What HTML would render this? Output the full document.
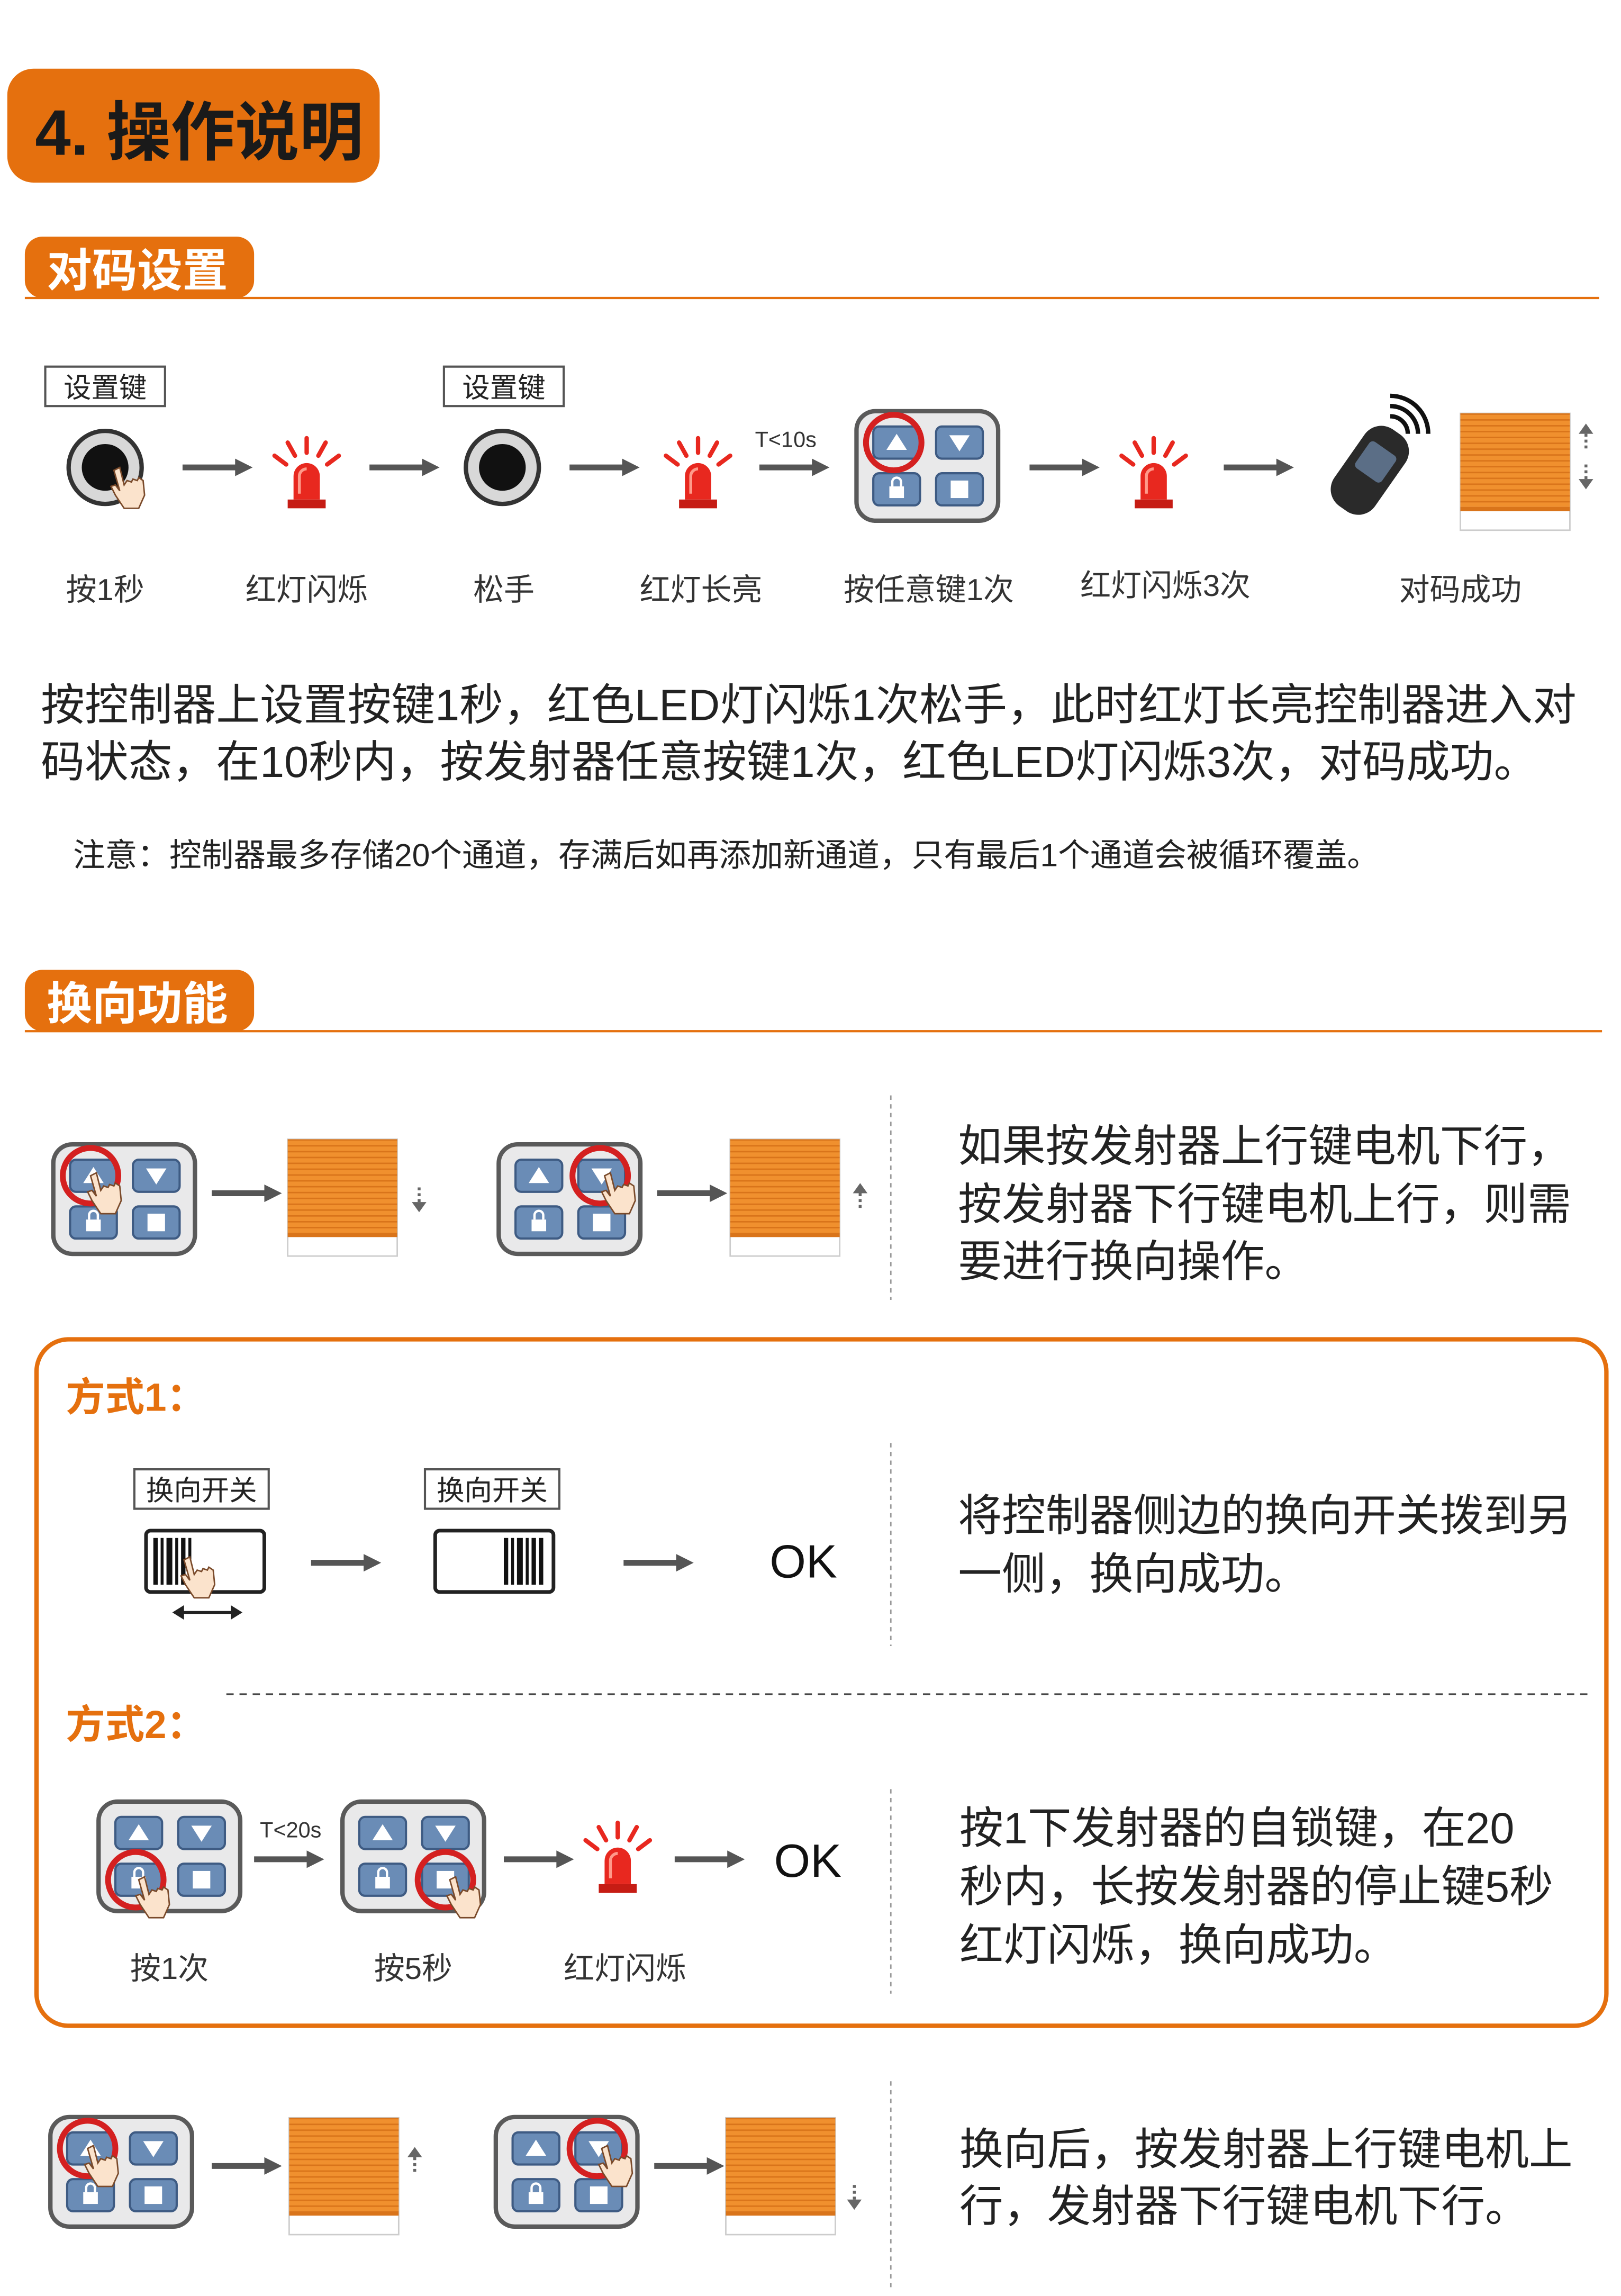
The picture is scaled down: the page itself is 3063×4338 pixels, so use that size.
<!DOCTYPE html>
<html><head><meta charset="utf-8">
<style>
html,body{margin:0;padding:0;background:#fff;}
svg{display:block;}
text{font-family:"Liberation Sans","Noto Sans CJK SC",sans-serif;}
</style></head>
<body>
<svg xmlns="http://www.w3.org/2000/svg" width="3063" height="4338" viewBox="0 0 1110 1572">
<defs>
  <g id="kp">
    <rect x="1.5" y="1.5" width="97" height="75" rx="13" fill="#e9e9ea" stroke="#5a5a5a" stroke-width="3"/>
    <rect x="13" y="12" width="32" height="22" rx="4" fill="#6a8cb6" stroke="#3e5b83" stroke-width="1.5"/>
    <rect x="56" y="12" width="32" height="22" rx="4" fill="#6a8cb6" stroke="#3e5b83" stroke-width="1.5"/>
    <rect x="13" y="44" width="32" height="22" rx="4" fill="#6a8cb6" stroke="#3e5b83" stroke-width="1.5"/>
    <rect x="56" y="44" width="32" height="22" rx="4" fill="#6a8cb6" stroke="#3e5b83" stroke-width="1.5"/>
    <polygon points="29,17 36,28 22,28" fill="#fff"/>
    <polygon points="65,18 79,18 72,29" fill="#fff"/>
    <rect x="24" y="53" width="10" height="8" fill="#fff"/>
    <path d="M26,53 v-3 a3,3 0 0 1 6,0 v3" fill="none" stroke="#fff" stroke-width="1.6"/>
    <rect x="66" y="49" width="12" height="12" fill="#fff"/>
  </g>
  <g id="hand">
    <path d="M0,0 l4,-2 l3,12 l2,-3 l3,1 l1,-2 l3,1 l1,-2 l3,2 l1,10 l-4,9 l-10,0 l-6,-9 l-3,-6 l3,-1 l3,4 z" fill="#fbe3cc" stroke="#7a4a2a" stroke-width="1"/>
  </g>
  <g id="light">
    <path d="M-9,20 v-16 a9,9 0 0 1 18,0 v16 z" fill="#e8281f"/>
    <path d="M-5,16 v-12 a5,5 0 0 1 5,-5" fill="none" stroke="#ff9a8a" stroke-width="2"/>
    <rect x="-13" y="20" width="26" height="6" fill="#c61c14"/>
    <g stroke="#e8281f" stroke-width="3" stroke-linecap="round">
      <line x1="0" y1="-12" x2="0" y2="-22"/>
      <line x1="-8" y1="-10" x2="-13" y2="-19"/>
      <line x1="8" y1="-10" x2="13" y2="-19"/>
      <line x1="-14" y1="-4" x2="-22" y2="-10"/>
      <line x1="14" y1="-4" x2="22" y2="-10"/>
    </g>
  </g>
  <g id="arr">
    <line x1="0" y1="0" x2="38" y2="0" stroke="#555" stroke-width="4"/>
    <polygon points="36,-6 48,0 36,6" fill="#555"/>
  </g>
  <pattern id="stripes" width="10" height="4" patternUnits="userSpaceOnUse">
    <rect width="10" height="4" fill="#f0902e"/>
    <rect width="10" height="1" fill="#d9741a"/>
  </pattern>
  <g id="shade">
    <rect x="0" y="0" width="75" height="80" fill="#fff" stroke="#ccc" stroke-width="1"/>
    <rect x="0" y="0" width="75" height="64" fill="url(#stripes)"/>
    <rect x="0" y="64" width="75" height="3" fill="#d9741a"/>
  </g>
  <g id="upa"><polygon points="0,-10 5,-3 -5,-3" fill="#666"/><line x1="0" y1="-3" x2="0" y2="8" stroke="#666" stroke-width="2" stroke-dasharray="2,2"/></g>
  <g id="dna"><polygon points="0,10 5,3 -5,3" fill="#666"/><line x1="0" y1="3" x2="0" y2="-8" stroke="#666" stroke-width="2" stroke-dasharray="2,2"/></g>
</defs>

<!-- Title -->
<rect x="5" y="47" width="255" height="78" rx="18" fill="#e5700e"/>
<text x="24" y="106" font-size="44" font-weight="bold" fill="#1a1a1a">4. 操作说明</text>

<!-- Section 1 -->
<rect x="17" y="162" width="157" height="42" rx="12" fill="#e5700e"/>
<text x="32" y="196" font-size="31" font-weight="bold" fill="#fff">对码设置</text>
<line x1="17" y1="204" x2="1095" y2="204" stroke="#e5700e" stroke-width="1.5"/>

<rect x="31" y="251" width="82" height="27" fill="#fff" stroke="#555" stroke-width="1.5"/>
<text x="72" y="272" font-size="19" text-anchor="middle" fill="#222">设置键</text>
<rect x="304" y="251" width="82" height="27" fill="#fff" stroke="#555" stroke-width="1.5"/>
<text x="345" y="272" font-size="19" text-anchor="middle" fill="#222">设置键</text>

<circle cx="72" cy="320" r="25" fill="#d8d8d8" stroke="#333" stroke-width="3"/>
<circle cx="72" cy="320" r="16" fill="#111"/>
<use href="#hand" x="78" y="322"/>
<circle cx="344" cy="320" r="25" fill="#d8d8d8" stroke="#333" stroke-width="3"/>
<circle cx="344" cy="320" r="16" fill="#111"/>

<use href="#arr" x="125" y="320"/>
<use href="#arr" x="253" y="320"/>
<use href="#arr" x="390" y="320"/>
<use href="#arr" x="520" y="320"/>
<text x="517" y="306" font-size="15" fill="#333">T&lt;10s</text>
<use href="#arr" x="705" y="320"/>
<use href="#arr" x="838" y="320"/>

<use href="#light" x="210" y="322"/>
<use href="#light" x="478" y="322"/>
<use href="#light" x="790" y="322"/>

<use href="#kp" x="585" y="280"/>
<circle cx="612" cy="303" r="19" fill="none" stroke="#d42020" stroke-width="4"/>

<!-- remote fob -->
<g transform="translate(938,322) rotate(35)">
  <rect x="-17" y="-32" width="34" height="64" rx="14" fill="#2a2a2a"/>
  <rect x="-11" y="-18" width="22" height="22" rx="3" fill="#5b6e86"/>
</g>
<path d="M952,285 a12,12 0 0 1 12,12 M952,278 a19,19 0 0 1 19,19 M952,271 a26,26 0 0 1 26,26" fill="none" stroke="#111" stroke-width="3"/>
<use href="#shade" x="1000" y="283"/>
<use href="#upa" x="1086" y="300"/>
<use href="#dna" x="1086" y="325"/>

<g font-size="21" fill="#333" text-anchor="middle">
<text x="72" y="411">按1秒</text>
<text x="210" y="411">红灯闪烁</text>
<text x="345" y="411">松手</text>
<text x="480" y="411">红灯长亮</text>
<text x="636" y="411">按任意键1次</text>
<text x="798" y="408">红灯闪烁3次</text>
<text x="1000" y="411">对码成功</text>
</g>

<text x="28" y="493" font-size="30" fill="#222">按控制器上设置按键1秒，红色LED灯闪烁1次松手，此时红灯长亮控制器进入对</text>
<text x="28" y="532" font-size="30" fill="#222">码状态，在10秒内，按发射器任意按键1次，红色LED灯闪烁3次，对码成功。</text>
<text x="50" y="593" font-size="22" fill="#222">注意：控制器最多存储20个通道，存满后如再添加新通道，只有最后1个通道会被循环覆盖。</text>

<!-- Section 2 -->
<rect x="17" y="664" width="157" height="42" rx="12" fill="#e5700e"/>
<text x="32" y="698" font-size="31" font-weight="bold" fill="#fff">换向功能</text>
<line x1="17" y1="706" x2="1097" y2="706" stroke="#e5700e" stroke-width="1.5"/>

<use href="#kp" x="35" y="782"/>
<circle cx="62" cy="805" r="19" fill="none" stroke="#d42020" stroke-width="4"/>
<use href="#hand" x="62" y="805"/>
<use href="#arr" x="145" y="817"/>
<use href="#shade" x="197" y="780"/>
<use href="#dna" x="287" y="820"/>
<use href="#kp" x="340" y="782"/>
<circle cx="411" cy="805" r="19" fill="none" stroke="#d42020" stroke-width="4"/>
<use href="#hand" x="414" y="805"/>
<use href="#arr" x="450" y="817"/>
<use href="#shade" x="500" y="780"/>
<use href="#upa" x="589" y="820"/>
<line x1="610" y1="750" x2="610" y2="890" stroke="#999" stroke-width="1" stroke-dasharray="3,3"/>
<g font-size="30" fill="#222">
<text x="656" y="795">如果按发射器上行键电机下行，</text>
<text x="656" y="835">按发射器下行键电机上行，则需</text>
<text x="656" y="874">要进行换向操作。</text>
</g>

<!-- box -->
<rect x="25" y="917" width="1075" height="470" rx="22" fill="none" stroke="#e5700e" stroke-width="3"/>
<text x="45" y="966" font-size="27" font-weight="bold" fill="#e5700e">方式1：</text>
<rect x="92" y="1006" width="92" height="27" fill="#fff" stroke="#555" stroke-width="1.5"/>
<text x="138" y="1027" font-size="19" text-anchor="middle" fill="#222">换向开关</text>
<rect x="291" y="1006" width="92" height="27" fill="#fff" stroke="#555" stroke-width="1.5"/>
<text x="337" y="1027" font-size="19" text-anchor="middle" fill="#222">换向开关</text>
<rect x="100" y="1048" width="81" height="42" rx="3" fill="#fff" stroke="#222" stroke-width="2.5"/>
<g fill="#111"><rect x="105" y="1053" width="3" height="32"/><rect x="110" y="1053" width="2" height="32"/><rect x="114" y="1053" width="4" height="32"/><rect x="120" y="1053" width="2" height="32"/><rect x="124" y="1053" width="3" height="32"/><rect x="129" y="1053" width="2" height="32"/></g>
<use href="#hand" x="126" y="1068"/>
<line x1="122" y1="1104" x2="162" y2="1104" stroke="#222" stroke-width="2"/>
<polygon points="118,1104 126,1099 126,1109" fill="#222"/><polygon points="166,1104 158,1099 158,1109" fill="#222"/>
<rect x="298" y="1048" width="81" height="42" rx="3" fill="#fff" stroke="#222" stroke-width="2.5"/>
<g fill="#111"><rect x="345" y="1053" width="3" height="32"/><rect x="350" y="1053" width="2" height="32"/><rect x="354" y="1053" width="4" height="32"/><rect x="360" y="1053" width="2" height="32"/><rect x="364" y="1053" width="3" height="32"/><rect x="369" y="1053" width="3" height="32"/></g>
<use href="#arr" x="213" y="1070"/>
<use href="#arr" x="427" y="1070"/>
<text x="527" y="1080" font-size="32" fill="#111">OK</text>
<line x1="610" y1="988" x2="610" y2="1127" stroke="#999" stroke-width="1" stroke-dasharray="3,3"/>
<g font-size="30" fill="#222">
<text x="656" y="1048">将控制器侧边的换向开关拨到另</text>
<text x="656" y="1088">一侧，换向成功。</text>
</g>
<line x1="155" y1="1160" x2="1087" y2="1160" stroke="#444" stroke-width="1.2" stroke-dasharray="5,4"/>

<text x="45" y="1190" font-size="27" font-weight="bold" fill="#e5700e">方式2：</text>
<use href="#kp" x="66" y="1232"/>
<circle cx="93" cy="1287" r="19" fill="none" stroke="#d42020" stroke-width="4"/>
<use href="#hand" x="95" y="1287"/>
<use href="#arr" x="174" y="1273"/>
<text x="178" y="1258" font-size="15" fill="#333">T&lt;20s</text>
<use href="#kp" x="233" y="1232"/>
<circle cx="305" cy="1287" r="19" fill="none" stroke="#d42020" stroke-width="4"/>
<use href="#hand" x="308" y="1287"/>
<use href="#arr" x="345" y="1273"/>
<use href="#light" x="423" y="1270"/>
<use href="#arr" x="462" y="1273"/>
<text x="530" y="1285" font-size="32" fill="#111">OK</text>
<g font-size="21" fill="#333" text-anchor="middle">
<text x="116" y="1355">按1次</text>
<text x="283" y="1355">按5秒</text>
<text x="428" y="1355">红灯闪烁</text>
</g>
<line x1="610" y1="1225" x2="610" y2="1365" stroke="#999" stroke-width="1" stroke-dasharray="3,3"/>
<g font-size="30" fill="#222">
<text x="657" y="1262">按1下发射器的自锁键，在20</text>
<text x="657" y="1302">秒内，长按发射器的停止键5秒</text>
<text x="657" y="1342">红灯闪烁，换向成功。</text>
</g>

<!-- bottom row -->
<use href="#kp" x="33" y="1448"/>
<circle cx="60" cy="1471" r="19" fill="none" stroke="#d42020" stroke-width="4"/>
<use href="#hand" x="60" y="1471"/>
<use href="#arr" x="145" y="1483"/>
<use href="#shade" x="198" y="1450"/>
<use href="#upa" x="284" y="1480"/>
<use href="#kp" x="338" y="1448"/>
<circle cx="409" cy="1471" r="19" fill="none" stroke="#d42020" stroke-width="4"/>
<use href="#hand" x="412" y="1471"/>
<use href="#arr" x="448" y="1483"/>
<use href="#shade" x="497" y="1450"/>
<use href="#dna" x="585" y="1503"/>
<line x1="610" y1="1425" x2="610" y2="1566" stroke="#999" stroke-width="1" stroke-dasharray="3,3"/>
<g font-size="30" fill="#222">
<text x="657" y="1482">换向后，按发射器上行键电机上</text>
<text x="657" y="1521">行，发射器下行键电机下行。</text>
</g>
</svg>
</body></html>
